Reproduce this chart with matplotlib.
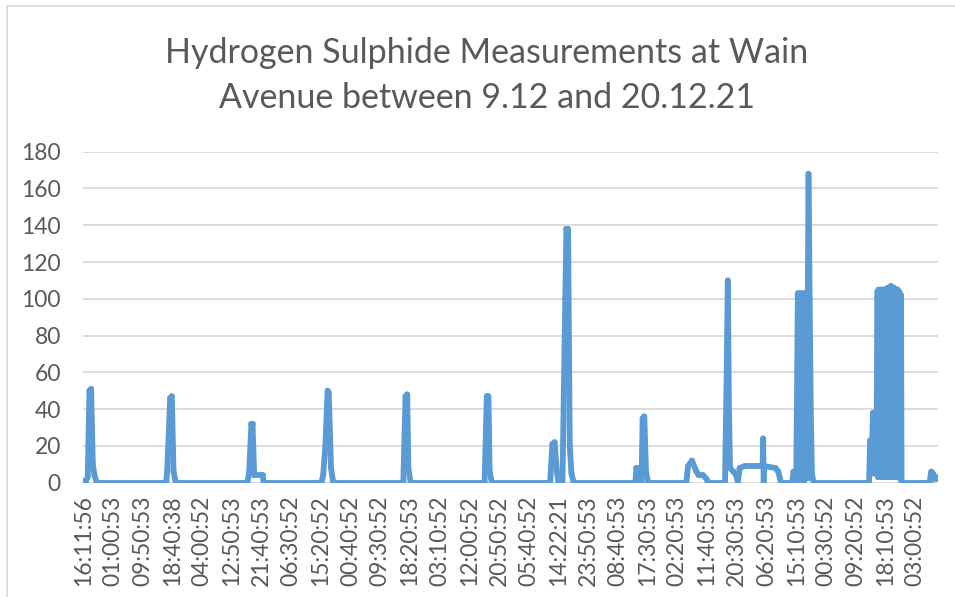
import numpy as np
import matplotlib.pyplot as plt
from matplotlib.patches import Rectangle
from matplotlib.collections import LineCollection

# H2S readings (ppb) - breakpoints, sample index -> value
n_samples = 1525
label_step = 53

h2s_idx = [0, 5, 8, 11, 14, 17, 20, 24,
           148, 150, 155, 158, 161, 165,
           293, 296, 300, 302, 305, 320, 322,
           425, 428, 432, 436, 438, 442, 446,
           571, 575, 578, 580, 584,
           716, 720, 723, 725, 729,
           833, 837, 841, 845, 848,
           855, 860, 862, 865, 868, 871, 875,
           985, 987, 993, 996, 998, 1001, 1004, 1008,
           1076, 1079, 1086, 1094, 1098, 1106, 1112, 1115,
           1145, 1148, 1150, 1152, 1154, 1160, 1165, 1168, 1171, 1180, 1200,
           1212, 1213, 1214, 1215, 1235, 1240, 1245,
           1265, 1267, 1270, 1272,
           1275, 1276, 1277, 1278, 1279, 1280, 1281, 1282, 1283, 1284, 1285,
           1286, 1287, 1288, 1289, 1290, 1292, 1294, 1296, 1298, 1300, 1303,
           1402, 1404, 1406, 1409, 1411, 1413, 1415,
           1417, 1418, 1419, 1420, 1421, 1422, 1423, 1424, 1425, 1426, 1427,
           1428, 1429, 1430, 1431, 1432, 1433, 1434, 1435, 1436, 1437, 1438,
           1439, 1440, 1441, 1442, 1443, 1444, 1445, 1446, 1447, 1448, 1449,
           1450, 1451, 1452, 1453, 1454, 1455, 1456, 1457, 1458, 1459, 1460,
           1461,
           1510, 1513, 1516, 1519, 1522, 1524]
h2s_val = [1, 1, 3, 50, 51, 10, 4, 0,
           0, 8, 46, 47, 6, 0,
           0, 6, 32, 32, 4, 4, 0,
           0, 4, 20, 50, 49, 8, 0,
           0, 47, 48, 8, 0,
           0, 47, 47, 6, 0,
           0, 21, 22, 6, 0,
           0, 100, 138, 138, 20, 5, 0,
           0, 8, 8, 0, 35, 36, 6, 0,
           0, 9, 12, 6, 4, 4, 2, 0,
           0, 60, 110, 40, 8, 6, 4, 0, 8, 9, 9,
           9, 24, 0, 9, 8, 6, 0,
           0, 6, 5, 0,
           103, 2, 102, 0, 103, 4, 101, 1, 103, 3, 102,
           0, 103, 2, 100, 4, 60, 168, 100, 40, 5, 0,
           0, 23, 5, 38, 5, 38, 5,
           104, 3, 105, 5, 104, 4, 105, 3, 104, 6, 105,
           4, 105, 3, 104, 5, 105, 4, 106, 3, 105, 5,
           106, 4, 107, 3, 106, 5, 105, 4, 106, 3, 105,
           5, 104, 4, 105, 3, 104, 5, 103, 2, 102, 0,
           0,
           0, 6, 5, 2, 3, 2]

# stretches where the reading flips every sample: start/end index, top, bottom
dense_start = [1275, 1417]
dense_end = [1296, 1460]
dense_top = [102, 105]
dense_low = [1, 3]

time_labels = ['16:11:56', '01:00:53', '09:50:53', '18:40:38', '04:00:52',
               '12:50:53', '21:40:53', '06:30:52', '15:20:52', '00:40:52',
               '09:30:52', '18:20:53', '03:10:52', '12:00:52', '20:50:52',
               '05:40:52', '14:22:21', '23:50:53', '08:40:53', '17:30:53',
               '02:20:53', '11:40:53', '20:30:53', '06:20:53', '15:10:53',
               '00:30:52', '09:20:52', '18:10:53', '03:00:52']

plt.rcParams['font.family'] = ['Lato', 'DejaVu Sans']
grey = '#595959'
blue = '#5b9bd5'

fig = plt.figure(figsize=(9.55, 5.97), dpi=100)
ax = fig.add_axes([0.0869, 0.1915, 0.895, 0.5544])

# chart frame (only top and left edges show in the picture)
fig.patches.append(Rectangle((7 / 955, -0.1), 1.2, 1.1 - 6 / 597,
                             transform=fig.transFigure, fill=False,
                             edgecolor='#d9d9d9', linewidth=1.2))

# one stroke per segment - a single path with sharp zigzags gets holes
pts = np.column_stack([h2s_idx, h2s_val])
segs = np.stack([pts[:-1], pts[1:]], axis=1)
lc = LineCollection(segs, colors=blue, linewidths=4.2, capstyle='round',
                    joinstyle='round', zorder=3)
ax.add_collection(lc)

# solid body of the dense stretches
for a, b, top, low in zip(dense_start, dense_end, dense_top, dense_low):
    ax.fill_between([a, b], [low, low], [top, top], color=blue,
                    linewidth=0, zorder=3)

ax.set_xlim(-0.5, n_samples - 0.5)
ax.set_ylim(0, 180)
ax.set_yticks(range(0, 181, 20))
ax.set_xticks(np.arange(len(time_labels)) * label_step)
ax.set_xticklabels(time_labels, rotation=90)

ax.tick_params(axis='y', length=0, pad=16, labelsize=16.5, labelcolor=grey)
ax.tick_params(axis='x', length=0, pad=9, labelsize=16.5, labelcolor=grey)
ax.grid(axis='y', color='#d9d9d9', linewidth=1.3)
ax.set_axisbelow(True)
for s in ax.spines.values():
    s.set_visible(False)

fig.text(0.51, 1 - 63.3 / 597, 'Hydrogen Sulphide Measurements at Wain',
         ha='center', va='baseline', fontsize=24.5, color=grey)
fig.text(0.51, 1 - 108.3 / 597, 'Avenue between 9.12 and 20.12.21',
         ha='center', va='baseline', fontsize=24.5, color=grey)

fig.savefig('out.png', dpi=100)
